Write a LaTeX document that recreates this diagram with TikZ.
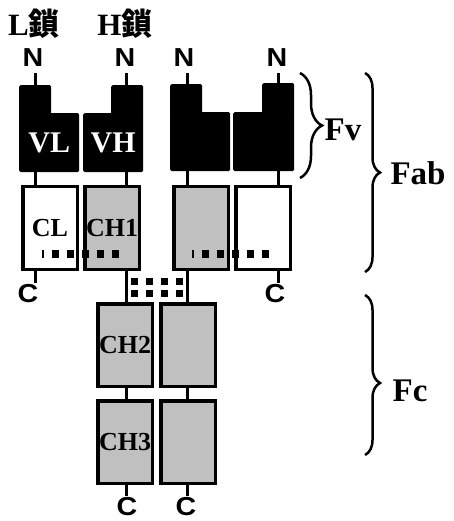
\documentclass[tikz,border=0pt]{standalone}
\usepackage{fontspec}
\setmainfont{Liberation Serif}
\newfontfamily\sansb{Liberation Sans}
\newfontfamily\cjk{Noto Sans CJK JP}
\usetikzlibrary{decorations.pathreplacing,calc}
\definecolor{boxgray}{RGB}{192,192,192}
\begin{document}
\begin{tikzpicture}[x=1pt,y=-1pt,
  vb/.style={fill=black, rounded corners=1.5pt, inner sep=0pt, anchor=north west, minimum height=59pt, minimum width=60pt,
    text=white, font=\bfseries\fontsize{30}{30}\selectfont},
  vtop/.style={fill=black, rounded corners=1.5pt, inner sep=0pt, anchor=north west, minimum height=31pt, minimum width=32pt},
  cbox/.style={draw, line width=3.5pt, minimum width=54.5pt, minimum height=82.5pt, inner sep=0pt,
    anchor=north west, font=\bfseries\fontsize{26}{26}\selectfont},
  stick/.style={line width=3pt},
  ssbond/.style={line width=7.5pt, dash pattern=on 7.5pt off 7.5pt, dash phase=5.5pt},
  hbond/.style={line width=7pt, dash pattern=on 6.5pt off 8.5pt},
  term/.style={inner sep=0pt, font=\sansb\bfseries\fontsize{26}{26}\selectfont, xscale=1.1},
  chain/.style={inner sep=0pt, font=\bfseries\fontsize{31}{31}\selectfont},
  frag/.style={inner sep=0pt, font=\bfseries\fontsize{33}{33}\selectfont},
  brc/.style={decorate, line width=2.5pt},
]
\useasboundingbox (0,0) rectangle (454,521);

% chain titles
\node[chain] (lch) at (34,24) {L{\cjk 鎖}};
\node[chain] (hch) at (125,24) {H{\cjk 鎖}};

% N termini
\node[term] (n1) at (33,58) {N};
\node[term] (n2) at (125,58) {N};
\node[term] (n3) at (184,58) {N};
\node[term] (n4) at (277,58) {N};

% variable domains
\node[vb] (vl) at (19,113) {VL};
\node[vtop] (vlt) at (19,85) {};
\node[vb] (vh) at (83,113) {VH};
\node[vtop] (vht) at (111,85) {};
\node[vb] (v3) at (170,112) {};
\node[vtop] (v3t) at (170,84) {};
\node[vb, minimum width=61pt] (v4) at (233,112) {};
\node[vtop] (v4t) at (262,83) {};

% constant domains
\node[cbox, fill=white] (cl) at (21,185) {CL};
\node[cbox, fill=boxgray] (ch1) at (83,185) {CH1};
\node[cbox, fill=boxgray] (c3) at (172,185) {};
\node[cbox, fill=white] (c4) at (234,185) {};
\node[cbox, fill=boxgray] (ch2) at (96,302) {CH2};
\node[cbox, fill=boxgray] (ch2r) at (159,302) {};
\node[cbox, fill=boxgray] (ch3) at (96,399) {CH3};
\node[cbox, fill=boxgray] (ch3r) at (159,399) {};

% stick x positions
\coordinate (xa) at (35,0);
\coordinate (xb) at (126.5,0);
\coordinate (xc) at (187.5,0);
\coordinate (xd) at (278,0);

% N sticks
\draw[stick, shorten <=6pt] (xa |- n1.south) -- (xa |- vlt.north);
\draw[stick, shorten <=6pt] (xb |- n2.south) -- (xb |- vht.north);
\draw[stick, shorten <=6pt] (xc |- n3.south) -- (xc |- v3t.north);
\draw[stick, shorten <=6pt] (xd |- n4.south) -- (xd |- v4t.north);

% V-C sticks
\draw[stick] (xa |- vl.south) -- (xa |- cl.north);
\draw[stick] (xb |- vh.south) -- (xb |- ch1.north);
\draw[stick] (xc |- v3.south) -- (xc |- c3.north);
\draw[stick] (xd |- v4.south) -- (xd |- c4.north);

% C termini of light chains
\node[term] (c1lab) at (28,294) {C};
\node[term] (c2lab) at (275,294) {C};
\draw[stick, shorten >=2pt] (xa |- cl.south) -- (xa |- c1lab.north);
\draw[stick, shorten >=2pt] (xd |- c4.south) -- (xd |- c2lab.north);

% hinge
\draw[stick] (xb |- ch1.south) -- (xb |- ch2.north);
\draw[stick] (xc |- c3.south) -- (xc |- ch2r.north);
\coordinate (h1a) at (131,281); \coordinate (h1b) at (184,281);
\coordinate (h2a) at (131,293); \coordinate (h2b) at (184,293);
\draw[hbond] (h1a) -- (h1b);
\draw[hbond] (h2a) -- (h2b);

% Fc sticks
\draw[stick] (xb |- ch2.south) -- (xb |- ch3.north);
\draw[stick] (xc |- ch2r.south) -- (xc |- ch3r.north);
\node[term] (c3lab) at (127,507) {C};
\node[term] (c4lab) at (186,507) {C};
\draw[stick, shorten >=2pt] (xb |- ch3.south) -- (xb |- c3lab.north);
\draw[stick, shorten >=2pt] (xc |- ch3r.south) -- (xc |- c4lab.north);

% disulfide bonds CL-CH1
\coordinate (s1a) at (42,254); \coordinate (s1b) at (120,254);
\coordinate (s2a) at (192,254); \coordinate (s2b) at (270,254);
\draw[ssbond] (s1a) -- (s1b);
\draw[ssbond] (s2a) -- (s2b);

% braces
\coordinate (fvt) at (300,73); \coordinate (fvb) at (300,178);
\coordinate (fabt) at (365,73); \coordinate (fabb) at (365,272);
\coordinate (fct) at (365,295); \coordinate (fcb) at (365,455);
\draw[brc, decoration={brace, amplitude=22pt}] (fvt) -- (fvb);
\draw[brc, decoration={brace, amplitude=15pt}] (fabt) -- (fabb);
\draw[brc, decoration={brace, amplitude=15pt, aspect=0.55}] (fct) -- (fcb);
\node[frag] (fv) at (343,130) {Fv};
\node[frag] (fab) at (418,173) {Fab};
\node[frag] (fc) at (410,391) {Fc};
\end{tikzpicture}
\end{document}
